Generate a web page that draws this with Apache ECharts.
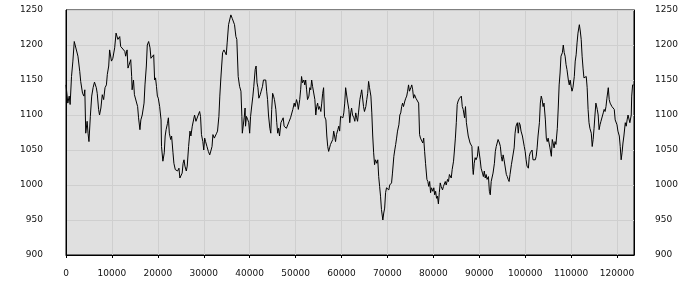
<!DOCTYPE html>
<html><head><meta charset="utf-8">
<script src="https://cdn.jsdelivr.net/npm/echarts@6/dist/echarts.min.js"></script>
<style>html,body{margin:0;padding:0;background:#fff}#c{width:700px;height:300px}</style>
</head><body><div id="c"></div>
<script>
const xs = [0,400,700,900,1200,1500,1800,2200,2600,3000,3200,3600,3900,4100,4300,4600,4800,5000,5300,5600,5900,6200,6600,6800,7100,7300,7600,7900,8200,8500,8800,9000,9300,9500,9900,10200,10600,10900,11300,11700,11900,12200,12800,13000,13300,13500,13800,14100,14300,14400,14700,14900,15300,15600,15800,16100,16300,16600,17000,17200,17500,17700,18000,18300,18500,18800,19100,19300,19500,19700,19900,20100,20400,20700,20800,21100,21400,21600,21800,22100,22300,22500,22800,23000,23300,23500,23800,24100,24300,24600,24800,25000,25300,25500,25700,25900,26200,26400,26700,27000,27200,27500,27800,28000,28300,28500,28800,29100,29300,29500,29800,30000,30200,30400,30700,31000,31300,31600,31800,32000,32300,32500,32800,33000,33300,33500,33700,33900,34100,34400,34700,34900,35100,35400,35700,35900,36200,36400,36700,37000,37200,
37500,37800,38100,38300,38400,38600,38800,39000,39100,39300,39600,39800,40000,40200,40400,40700,40900,41200,41400,41600,41800,42000,42300,42500,42800,43000,43200,43500,43700,43900,44100,44400,44600,44800,45000,45200,45400,45700,45900,46100,46300,46500,46800,47000,47300,47500,47700,48000,48200,48400,48600,48900,49100,49400,49700,49900,50200,50400,50600,50900,51100,51300,51500,51800,52000,52200,52400,52600,52900,53100,53300,53500,53700,53900,54200,54400,54600,54800,55000,55200,55500,55700,55900,56100,56300,56600,56800,57000,57200,57400,57600,57900,58100,58300,58500,58700,58900,59200,59400,59600,59800,60000,60300,60500,60700,60900,61100,61300,61600,61800,62000,62200,62400,62700,62900,63100,63300,63500,63700,64000,64200,64400,64600,64800,65000,65300,65500,65700,65900,66100,66400,66600,66800,67000,67200,67400,67700,67900,68100,68300,68500,68700,69000,69200,69400,69600,69800,70100,70300,70500,70700,70900,71100,71400,71600,71800,72000,72200,72500,72700,72900,73100,73300,73500,73800,74000,74200,74400,74600,74800,75100,75300,75500,75700,75900,76200,76400,76600,76800,77000,77200,77500,77700,77900,78100,78300,78600,78800,79000,79200,79400,79600,79900,80100,80300,80500,80700,80900,81100,81300,81500,81700,82000,82200,82400,82600,82800,83100,83300,83500,83700,83900,84100,84400,84600,84800,85000,85200,85400,85700,85900,86100,86300,86500,86800,87000,87200,87400,87600,
88000,88200,88400,88600,88700,88900,89100,89300,89600,89800,90000,90200,90400,90700,90900,91100,91300,91500,91700,92000,92200,92400,92600,92800,93000,93300,93500,93700,93900,94100,94400,94600,94800,95000,95200,95400,95700,95900,96100,96300,96500,96700,97000,97200,97400,97600,97800,98000,98300,98500,98700,98900,99100,99400,99600,99800,100000,100200,100400,100700,100900,101100,101300,101500,101700,102000,102200,102400,102600,102800,103100,103300,103500,103700,103900,104100,104400,104600,104800,105000,105200,105400,105700,105900,106100,106300,106500,106700,107000,107200,107400,107600,107800,108100,108300,108500,108700,108900,109100,109400,109600,109800,110000,110200,110400,110700,110900,111100,111300,111500,111800,112000,112200,112400,112600,112800,113100,113300,113500,113700,113900,114100,114400,114600,114800,115000,115200,115400,115700,115900,116100,116300,116500,116800,117000,117200,117400,117600,117800,118100,118300,118500,118700,118900,119100,119400,119600,119800,120000,120200,120500,120700,120900,121100,121300,121500,121800,122000,122200,122400,122600,122800,123100,123200,123400,123600];
const ys = [1143,1117,1127,1115,1155,1177,1205,1205,1184,1162,1148,1131,1127,1136,1074,1091,1074,1062,1098,1127,1139,1147,1139,1131,1108,1100,1110,1129,1122,1139,1143,1158,1170,1193,1177,1181,1196,1217,1208,1212,1198,1196,1191,1184,1193,1167,1165,1179,1155,1136,1150,1129,1127,1112,1096,1079,1093,1100,1117,1143,1170,1200,1205,1196,1181,1179,1186,1150,1153,1141,1127,1124,1112,1093,1055,1034,1046,1070,1079,1088,1096,1074,1065,1070,1046,1031,1022,1024,1020,1024,1010,1008,1017,1031,1036,1027,1020,1027,1055,1077,1070,1084,1084,1100,1091,1091,1100,1105,1098,1072,1062,1050,1067,1062,1055,1048,1043,1050,1055,1072,1067,1065,1074,1077,1098,1127,1150,1170,1189,1193,1191,1186,1203,1229,1231,1243,1238,1236,1229,1212,1208,
1155,1141,1134,1098,1074,1072,1096,1110,1084,1098,1093,1089,1074,1098,1110,1127,1141,1165,1170,1146,1139,1124,1129,1134,1141,1150,1148,1150,1134,1122,1100,1081,1074,1108,1131,1127,1122,1108,1089,1074,1081,1070,1089,1091,1096,1084,1086,1081,1079,1081,1091,1096,1098,1108,1117,1112,1122,1117,1108,1122,1136,1155,1146,1150,1143,1150,1136,1122,1127,1139,1136,1150,1141,1139,1122,1100,1112,1117,1108,1112,1105,1117,1131,1139,1098,1093,1070,1055,1048,1053,1058,1060,1065,1077,1070,1062,1072,1079,1084,1077,1098,1100,1096,1103,1117,1139,1141,1120,1108,1089,1103,1110,1100,1096,1091,1103,1096,1091,1103,1122,1129,1136,1134,1112,1105,1112,1122,1131,1148,1139,1127,1103,1070,1046,1029,1036,1031,1036,1012,998,984,965,950,960,967,989,996,998,993,1000,1000,1003,1017,1041,1050,1058,1067,1077,1086,1100,1103,1112,1117,1112,1120,1124,1127,1134,1143,1134,1139,1143,1136,1124,1129,1124,1122,1122,1117,1072,1067,1065,1060,1067,1048,1031,1008,1005,998,1005,989,996,991,996,986,991,981,984,973,989,1003,998,993,998,1000,1005,1000,1008,1005,1015,1017,1010,1022,1034,1050,1067,1089,1115,1120,1124,1122,1127,1112,1108,1096,1112,1089,1091,1070,
1060,1058,1055,1022,1015,1031,1039,1036,1041,1055,1055,1036,1024,1017,1012,1020,1010,1015,1008,1012,991,986,1005,1003,1017,1031,1048,1055,1060,1065,1060,1055,1041,1034,1043,1036,1034,1015,1012,1008,1005,1015,1029,1031,1031,1053,1074,1084,1089,1074,1089,1086,1077,1070,1070,1055,1048,1036,1027,1024,1041,1046,1048,1050,1036,1034,1036,1041,1053,1070,1089,1117,1127,1122,1112,1117,1093,1067,1062,1067,1065,1053,1041,1065,1060,1053,1062,1058,1081,1110,1143,1160,1184,1189,1200,1189,1184,1172,1165,1150,1143,1150,1141,1134,1139,1155,1177,1186,1203,1217,1229,1220,1208,1184,1167,1153,1153,1155,1139,1108,1089,1081,1074,1055,1065,1081,1100,1117,1108,1100,1079,1086,1091,1091,1103,1108,1105,1112,1124,1139,1122,1117,1117,1112,1110,1108,1093,1091,1086,1077,1070,1055,1036,1046,1060,1070,1089,1084,1093,1100,1098,1089,1100,1127,1143,1143];
const xMax = 123700;
const yMin = 900, yMax = 1250, yStep = 50, xStep = 10000;

const data = xs.map((x, i) => [x, ys[i]]);
const chart = echarts.init(document.getElementById('c'), null, {renderer: 'canvas'});
const plain = v => String(v);
const font = {fontFamily: 'DejaVu Sans', fontSize: 9, color: '#111', formatter: plain};
chart.setOption({
  animation: false,
  backgroundColor: '#ffffff',
  grid: {left: 66, right: 66, top: 10, bottom: 45, show: true, backgroundColor: '#e0e0e0', borderColor: '#000', borderWidth: 1},
  xAxis: {
    type: 'value', min: 0, max: xMax, interval: xStep,
    axisLine: {show: true, lineStyle: {color: '#000', width: 1}},
    axisTick: {show: true, length: 3, lineStyle: {color: '#000'}},
    axisLabel: Object.assign({margin: 14, showMaxLabel: false}, font),
    splitLine: {show: true, lineStyle: {color: '#cfcfcf', width: 1}}
  },
  yAxis: [
    {type: 'value', min: yMin, max: yMax, interval: yStep, position: 'left',
     axisLine: {show: true, lineStyle: {color: '#000'}}, axisTick: {show: false},
     axisLabel: Object.assign({margin: 23}, font),
     splitLine: {show: true, lineStyle: {color: '#cfcfcf', width: 1}}},
    {type: 'value', min: yMin, max: yMax, interval: yStep, position: 'right',
     axisLine: {show: true, lineStyle: {color: '#000'}}, axisTick: {show: false},
     axisLabel: Object.assign({margin: 21}, font),
     splitLine: {show: false}}
  ],
  series: [{type: 'line', data: data, showSymbol: false, symbol: 'none',
    lineStyle: {color: '#000', width: 1}, z: 3}]
});
</script></body></html>
